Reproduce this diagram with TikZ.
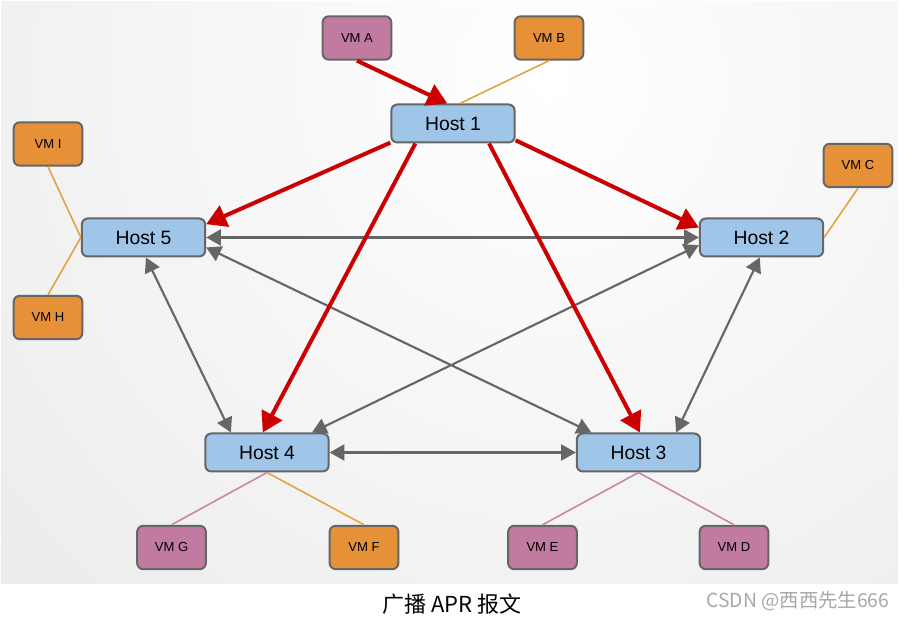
\documentclass[tikz,border=0pt]{standalone}
\usepackage{xcolor}
\usepackage{fontspec}
\setmainfont{Liberation Sans}
\newfontfamily\cjk{Noto Sans CJK SC}
\usepackage{tikz}
\usetikzlibrary{arrows.meta}

\definecolor{hostblue}{HTML}{9FC5E8}
\definecolor{vmpink}{HTML}{C27BA0}
\definecolor{vmorange}{HTML}{E69138}
\definecolor{boxgrey}{HTML}{666666}
\definecolor{redarr}{HTML}{CC0000}
\definecolor{lineorange}{HTML}{E2A440}
\definecolor{linepink}{HTML}{C985AB}
\definecolor{bggrey}{HTML}{D8D8D8}
\definecolor{wmgrey}{HTML}{A8A8A8}

\begin{document}
\begin{tikzpicture}[x=0.75pt, y=-0.75pt,
	host/.style={draw=boxgrey, line width=1.5pt, fill=hostblue, rounded corners=4.5pt, minimum width=92.5pt, minimum height=28.5pt, inner sep=0pt, font=\fontsize{14.5}{17}\selectfont},
	vm/.style={draw=boxgrey, line width=1.5pt, rounded corners=4.5pt, minimum width=51.5pt, minimum height=32.5pt, inner sep=0pt, font=\fontsize{9.8}{11}\selectfont},
	redarrow/.style={draw=redarr, line width=3pt, -{Triangle[length=15pt, width=17pt]}},
	greyarrow/.style={draw=boxgrey, line width=1.6pt, {Triangle[length=11pt, width=12pt]}-{Triangle[length=11pt, width=12pt]}},
	vmline/.style={line width=1.2pt}]
	
	\useasboundingbox (0,0) rectangle (908,620);
	\fill[white] (0,0) rectangle (908,620);
	
	%//grey background
	\begin{scope}
		\clip (1,2) rectangle (898,584);
		\shade[inner color=white, outer color=bggrey] (550,80) circle (1125pt);
	\end{scope}
	
	\foreach \n/\x/\y/\t in {h1/453/123.5/1, h2/761.5/237.5/2, h3/638.5/452.5/3, h4/267/452.5/4, h5/143.5/237.5/5}
	\node [host] (\n) at (\x,\y) {Host \t};
	
	\foreach \n/\x/\y/\c/\t in {va/357/38/vmpink/A, vb/549/38/vmorange/B, vc/858/165.5/vmorange/C, vd/734/547.5/vmpink/D, ve/542.5/547.5/vmpink/E, vf/364/547.5/vmorange/F, vg/171.5/547.5/vmpink/G, vh/48/317.5/vmorange/H, vi/48/144/vmorange/I}
	\node [vm, fill=\c] (\n) at (\x,\y) {VM \t};
	
	%//vm links
	\foreach \a/\b in {h1.71/vb.south, h2.east/vc.south, h5.west/vi.south, h5.west/vh.north, h4.south/vf.north}
	\draw [vmline, lineorange] (\a) -- (\b);
	
	\foreach \a/\b in {h4.south/vg.north, h3.south/ve.north, h3.south/vd.north}
	\draw [vmline, linepink] (\a) -- (\b);
	
	%//host links
	\foreach \a/\b in {h5.east/h2.west, h5.351/h3.157, h2.187/h4.24, h5.277/h4.151, h2.265/h3.28, h4.east/h3.west}
	\draw [greyarrow] (\a) -- (\b);
	
	%//broadcast
	\foreach \a/\b in {va.south/h1.106, h1.197/h5.12, h1.208/h4.102, h1.331/h3.86, h1.345/h2.171}
	\draw [redarrow] (\a) -- (\b);
	
	\node [font=\cjk\fontsize{16.5}{20}\selectfont] (cap) at (452,604) {广播 APR 报文};
	\node [font=\cjk\fontsize{14.5}{17}\selectfont, text=wmgrey, anchor=east] (wm) at (894,601) {CSDN @西西先生666};
\end{tikzpicture}
\end{document}
